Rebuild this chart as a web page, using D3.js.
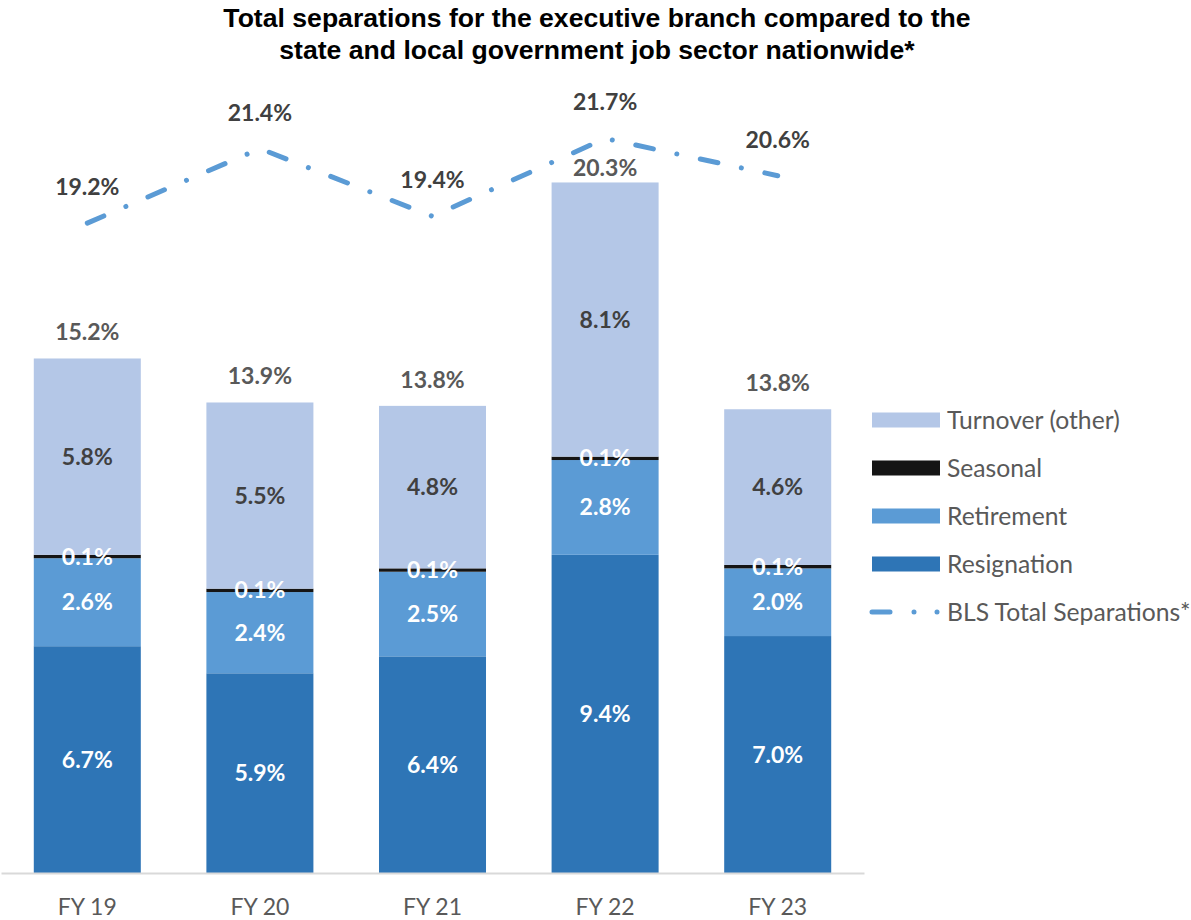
<!DOCTYPE html>
<html>
<head>
<meta charset="utf-8">
<script src="https://cdn.jsdelivr.net/npm/d3@7"></script>
<style>
  html, body { margin: 0; padding: 0; background: #fff; }
  svg { display: block; }
</style>
</head>
<body>
<svg id="chart" width="1191" height="920"></svg>
<script>
// Separation rates by fiscal year (percent of workforce)
const years = ["FY 19", "FY 20", "FY 21", "FY 22", "FY 23"];
const resignation = [6.7, 5.9, 6.4, 9.4, 7.0];
const retirement = [2.6, 2.4, 2.5, 2.8, 2.0];
const seasonal = [0.1, 0.1, 0.1, 0.1, 0.1];
const turnover = [5.8, 5.5, 4.8, 8.1, 4.6];
const totals = [15.2, 13.9, 13.8, 20.3, 13.8];
const blsTotal = [19.2, 21.4, 19.4, 21.7, 20.6];

const seriesNames = ["Resignation", "Retirement", "Seasonal", "Turnover (other)"];
const seriesValues = [resignation, retirement, seasonal, turnover];
const colors = {
  "Resignation": "#2e75b6",
  "Retirement": "#5b9bd5",
  "Seasonal": "#151515",
  "Turnover (other)": "#b4c7e7"
};
const labelColors = {
  "Resignation": "#ffffff",
  "Retirement": "#ffffff",
  "Seasonal": "#ffffff",
  "Turnover (other)": "#404040"
};
const blsColor = "#5b9bd5";
const lineDash = "18,24,0.01,24";

const svg = d3.select("#chart");
const labelFont = "Lato, 'Open Sans', sans-serif";

// Title
svg.append("text")
  .attr("x", 597).attr("y", 27)
  .attr("text-anchor", "middle")
  .style("font-family", "'Liberation Sans', Arial, sans-serif")
  .style("font-weight", "bold").style("font-size", "26.6px").style("fill", "#000")
  .selectAll("tspan")
  .data(["Total separations for the executive branch compared to the",
         "state and local government job sector nationwide*"])
  .join("tspan")
  .attr("x", 597)
  .attr("dy", (d, i) => i === 0 ? 0 : 32)
  .text(d => d);

// Scales
const x = d3.scaleBand().domain(years).range([1, 864]).paddingInner(0.38).paddingOuter(0.19);
const y = d3.scaleLinear().domain([0, 25]).range([873, 873 - 25 * 33.85]);

// Stack table
const table = years.map((yr, i) => {
  const row = { year: yr };
  seriesNames.forEach((s, k) => row[s] = seriesValues[k][i]);
  return row;
});
const stacked = d3.stack().keys(seriesNames)(table);

// Bars
const layers = svg.append("g").selectAll("g")
  .data(stacked)
  .join("g")
  .attr("fill", d => colors[d.key]);

layers.selectAll("rect")
  .data(d => d)
  .join("rect")
  .attr("x", d => x(d.data.year))
  .attr("width", x.bandwidth())
  .attr("y", d => y(d[1]))
  .attr("height", d => y(d[0]) - y(d[1]));

// Segment value labels
stacked.forEach(layer => {
  svg.append("g").selectAll("text")
    .data(layer)
    .join("text")
    .attr("x", d => x(d.data.year) + x.bandwidth() / 2)
    .attr("y", d => (y(d[0]) + y(d[1])) / 2)
    .attr("dy", "0.35em")
    .attr("text-anchor", "middle")
    .style("font-family", labelFont).style("font-weight", "bold").style("font-size", "23px")
    .style("fill", labelColors[layer.key])
    .text(d => (d[1] - d[0]).toFixed(1) + "%");
});

// X axis
const xAxis = svg.append("g")
  .attr("transform", "translate(0,873)")
  .call(d3.axisBottom(x).tickSize(0).tickPadding(0));
xAxis.select(".domain").attr("stroke", "#d9d9d9").attr("stroke-width", 2);
xAxis.selectAll("text")
  .attr("y", 34).attr("dy", "0.35em")
  .style("font-family", labelFont).style("font-size", "23px").style("fill", "#595959");

// BLS line
const blsPoints = years.map((yr, i) => [x(yr) + x.bandwidth() / 2, y(blsTotal[i])]);
svg.append("path")
  .datum(blsPoints)
  .attr("d", d3.line())
  .attr("fill", "none")
  .attr("stroke", blsColor)
  .attr("stroke-width", 5)
  .attr("stroke-linecap", "round")
  .attr("stroke-dasharray", lineDash);

svg.append("g").selectAll("text")
  .data(blsTotal)
  .join("text")
  .attr("x", (d, i) => blsPoints[i][0])
  .attr("y", (d, i) => blsPoints[i][1] - 28)
  .attr("text-anchor", "middle")
  .style("font-family", labelFont).style("font-weight", "bold").style("font-size", "23px")
  .style("fill", "#404040")
  .text(d => d.toFixed(1) + "%");

// Total labels above each stack, kept clear of the BLS line
svg.append("g").selectAll("text")
  .data(totals)
  .join("text")
  .attr("x", (d, i) => x(years[i]) + x.bandwidth() / 2)
  .attr("y", (d, i) => {
    const top = y(d3.sum(seriesValues, s => s[i]));
    return Math.max(top - 18, blsPoints[i][1] + 38);
  })
  .attr("text-anchor", "middle")
  .style("font-family", labelFont).style("font-weight", "bold").style("font-size", "23px")
  .style("fill", "#595959")
  .text(d => d.toFixed(1) + "%");

// Legend
const legendItems = ["Turnover (other)", "Seasonal", "Retirement", "Resignation"];
const legend = svg.append("g");
legendItems.forEach((name, i) => {
  const cy = 420 + i * 48;
  legend.append("rect")
    .attr("x", 872).attr("y", cy - 7.5).attr("width", 68).attr("height", 15)
    .attr("fill", colors[name]);
  legend.append("text")
    .attr("x", 947).attr("y", cy).attr("dy", "0.35em")
    .style("font-family", labelFont).style("font-size", "24.7px").style("fill", "#595959")
    .text(name);
});
const blsY = 420 + 4 * 48;
legend.append("line")
  .attr("x1", 872).attr("x2", 940).attr("y1", blsY).attr("y2", blsY)
  .attr("stroke", blsColor).attr("stroke-width", 5).attr("stroke-linecap", "round")
  .attr("stroke-dasharray", "18,24,0.01,23,0.01,100");
legend.append("text")
  .attr("x", 947).attr("y", blsY).attr("dy", "0.35em")
  .style("font-family", labelFont).style("font-size", "24.7px").style("fill", "#595959")
  .text("BLS Total Separations*");
</script>
</body>
</html>
